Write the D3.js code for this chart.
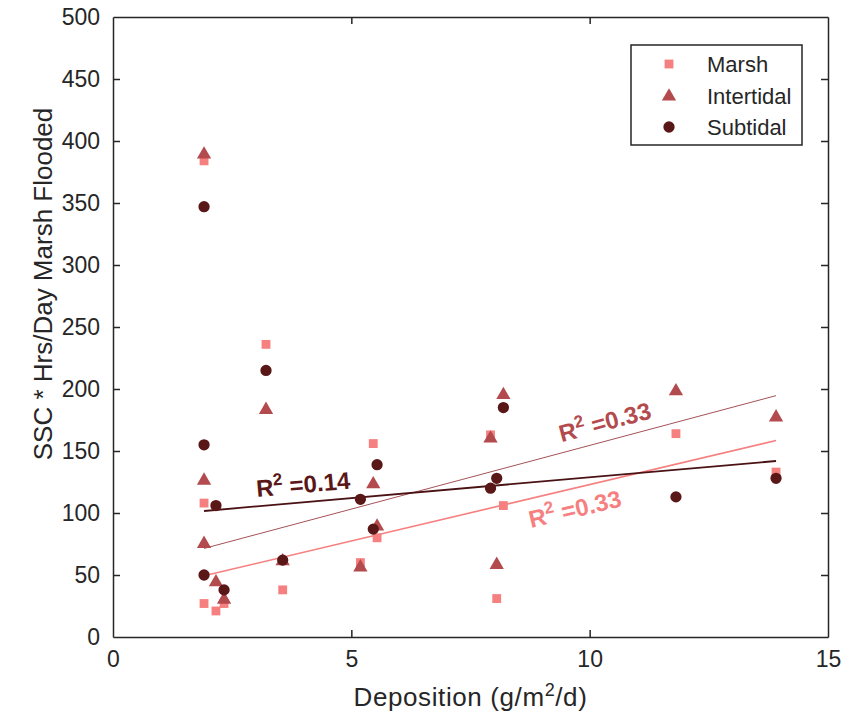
<!DOCTYPE html>
<html>
<head>
<meta charset="utf-8">
<script src="https://cdn.jsdelivr.net/npm/d3@7"></script>
<style>
  body { margin: 0; background: #fff; }
  text { font-family: "Liberation Sans", Arial, sans-serif; fill: #262626; }
</style>
</head>
<body>
<div id="chart"></div>
<script>
// ---------- DATA ----------
// deposition (g/m2/d) for each site, same x for all three zones
const deposition = [1.91, 1.91, 1.91, 2.16, 2.33, 3.21, 3.56, 5.19, 5.46, 5.54, 7.92, 8.05, 8.19, 11.81, 13.91];
const marsh      = [384, 108, 27, 21, 27, 236, 38, 60, 156, 80, 163, 31, 106, 164, 133];
const intertidal = [390, 127, 76, 45, 31, 184, 62, 57, 124, 90, 161, 59, 196, 199, 178];
const subtidal   = [347, 155, 50, 106, 38, 215, 62, 111, 87, 139, 120, 128, 185, 113, 128];

const seriesNames = ["Marsh", "Intertidal", "Subtidal"];
// linear fits: [slope, intercept]
const fitSlope     = [9.09, 10.27, 3.36];
const fitIntercept = [32.0, 51.8, 95.2];
const fitR2        = ["0.33", "0.33", "0.14"];

const xTicks = [0, 5, 10, 15];
const yTicks = [0, 50, 100, 150, 200, 250, 300, 350, 400, 450, 500];

// ---------- CHART ----------
const width = 861;
const height = 728;
const margin = { top: 17, right: 33, bottom: 91, left: 113 };

const colors = ["#f67f7f", "#b34a4d", "#5a1717"];
const lineColors = ["#f67f7f", "#a55257", "#4a1214"];
const lineWidths = [1.6, 1, 1.8];

const svg = d3.select("#chart").append("svg")
  .attr("width", width)
  .attr("height", height);

const x = d3.scaleLinear().domain([0, 15]).range([margin.left, width - margin.right]);
const y = d3.scaleLinear().domain([0, 500]).range([height - margin.bottom, margin.top]);

const axisColor = "#262626";
const tickLen = 7;

// axes, MATLAB style box with inward ticks
const axB = svg.append("g").attr("transform", `translate(0,${y(0)})`)
  .call(d3.axisBottom(x).tickValues(xTicks).tickSizeInner(-tickLen).tickSizeOuter(0).tickPadding(14));
const axT = svg.append("g").attr("transform", `translate(0,${y(500)})`)
  .call(d3.axisTop(x).tickValues(xTicks).tickSizeInner(-tickLen).tickSizeOuter(0).tickFormat(""));
const axL = svg.append("g").attr("transform", `translate(${x(0)},0)`)
  .call(d3.axisLeft(y).tickValues(yTicks).tickSizeInner(-tickLen).tickSizeOuter(0).tickPadding(13));
const axR = svg.append("g").attr("transform", `translate(${x(15)},0)`)
  .call(d3.axisRight(y).tickValues(yTicks).tickSizeInner(-tickLen).tickSizeOuter(0).tickFormat(""));

[axB, axT, axL, axR].forEach((g) => {
  g.select(".domain").attr("stroke", axisColor).attr("stroke-width", 1.5);
  g.selectAll(".tick line").attr("stroke", axisColor).attr("stroke-width", 1.5);
  g.selectAll(".tick text")
    .attr("font-size", 23)
    .attr("font-family", "'Liberation Sans', Arial, sans-serif")
    .attr("fill", axisColor);
});
// hide end ticks that sit on the box corners
[axB, axT].forEach((g) => g.selectAll(".tick line").filter((d) => d === 0 || d === 15).remove());
[axL, axR].forEach((g) => g.selectAll(".tick line").filter((d) => d === 0 || d === 500).remove());

// axis labels
svg.append("text")
  .attr("x", (x(0) + x(15)) / 2)
  .attr("y", 706)
  .attr("text-anchor", "middle")
  .attr("font-size", 26)
  .attr("letter-spacing", 0.6)
  .html('Deposition (g/m<tspan dy="-10" font-size="18">2</tspan><tspan dy="10">/d)</tspan>');

svg.append("text")
  .attr("transform", `translate(52,284) rotate(-90)`)
  .attr("text-anchor", "middle")
  .attr("font-size", 26)
  .text("SSC * Hrs/Day Marsh Flooded");

// fit lines
const xMin = d3.min(deposition);
const xMax = d3.max(deposition);
const plot = svg.append("g");

seriesNames.forEach((name, i) => {
  const f = (v) => fitSlope[i] * v + fitIntercept[i];
  plot.append("line")
    .attr("x1", x(xMin)).attr("y1", y(f(xMin)))
    .attr("x2", x(xMax)).attr("y2", y(f(xMax)))
    .attr("stroke", lineColors[i])
    .attr("stroke-width", lineWidths[i]);
});

// markers
const values = [marsh, intertidal, subtidal];
const symbols = [d3.symbolSquare, d3.symbolTriangle, d3.symbolCircle];
const symbolSizes = [78, 88, 100];

function drawMarker(g, i, cx, cy) {
  g.append("path")
    .attr("d", d3.symbol().type(symbols[i]).size(symbolSizes[i]))
    .attr("transform", `translate(${cx},${cy + (i === 1 ? 1 : 0)})`)
    .attr("fill", colors[i]);
}

values.forEach((vals, i) => {
  vals.forEach((v, j) => drawMarker(plot, i, x(deposition[j]), y(v)));
});

// R^2 annotations, rotated along their fit line
const labelAt = [[8.77, 88], [9.41, 157], [3.02, 113]];
seriesNames.forEach((name, i) => {
  const [lx, ly] = labelAt[i];
  const pxSlope = (y(fitSlope[i] * 10) - y(0)) / (x(10) - x(0));
  const angle = Math.atan(pxSlope) * 180 / Math.PI;
  plot.append("text")
    .attr("transform", `translate(${x(lx)},${y(ly)}) rotate(${angle})`)
    .attr("font-size", 24)
    .attr("font-weight", "bold")
    .style("fill", colors[i])
    .html(`R<tspan dy="-10" font-size="17">2</tspan><tspan dy="10"> =${fitR2[i]}</tspan>`);
});

// legend
const legend = svg.append("g").attr("transform", "translate(631,45)");
legend.append("rect")
  .attr("width", 171).attr("height", 100)
  .attr("fill", "#fff")
  .attr("stroke", axisColor)
  .attr("stroke-width", 1.5);
seriesNames.forEach((name, i) => {
  drawMarker(legend, i, 38, 19 + i * 31.5);
  legend.append("text")
    .attr("x", 76)
    .attr("y", 19 + i * 31.5 + 8)
    .attr("font-size", 22)
    .text(name);
});
</script>
</body>
</html>
